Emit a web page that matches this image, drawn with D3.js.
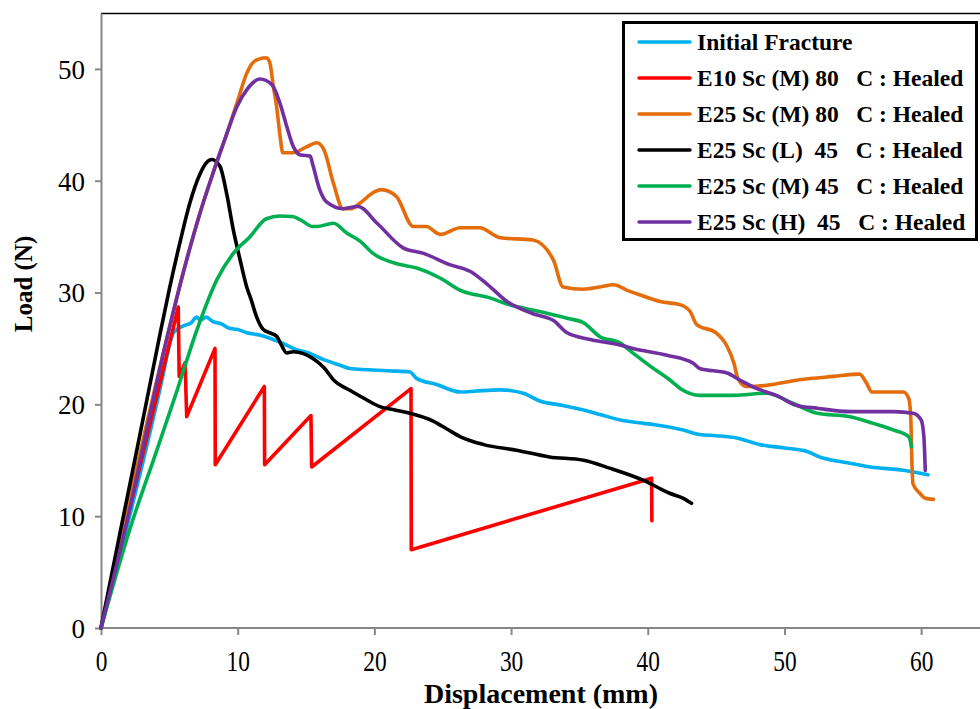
<!DOCTYPE html>
<html>
<head>
<meta charset="utf-8">
<script src="https://cdn.jsdelivr.net/npm/d3@7"></script>
<style>
  body { margin: 0; background: #fff; }
  svg { display: block; font-family: "Liberation Serif", "Times New Roman", serif; }
</style>
</head>
<body>
<div id="chart"></div>
<script>
// values (displacement mm, load N)
const seriesNames = ["Initial Fracture", "E10 Sc (M) 80   C : Healed", "E25 Sc (M) 80   C : Healed",
  "E25 Sc (L)  45   C : Healed", "E25 Sc (M) 45   C : Healed", "E25 Sc (H)  45   C : Healed"]
const seriesColors = ["#00b0f0", "#ff0000", "#e46c0a", "#000000", "#00b050", "#7030a0"]
const xTicks = [0, 10, 20, 30, 40, 50, 60]
const yTicks = [0, 10, 20, 30, 40, 50]

const initialFracture = [[0,0],[4.5,22.4],[5.05,25.5],[5.3,26.4],[6.0,27.0],[6.6,27.3],[7.0,27.8],[7.24,27.5],[7.7,27.8],[8.2,27.4],
  [8.8,27.2],[9.4,26.8],[10.0,26.7],[10.66,26.4],[11.6,26.2],[12.6,25.8],[13.4,25.4],[14.3,24.9],[15.2,24.6],[16.3,24.0],
  [17.5,23.5],[18.2,23.2],[19.5,23.1],[21.0,23.0],[22.6,22.9],[23.1,22.3],[24.5,21.8],[26.3,21.1],[27.5,21.2],[29.2,21.3],
  [30.9,21.0],[32.1,20.3],[33.8,19.9],[35.3,19.5],[36.5,19.1],[38.0,18.6],[39.7,18.3],[40.4,18.2],[42.6,17.7],[43.8,17.3],
  [45.0,17.2],[46.5,17.0],[48.2,16.4],[50.0,16.1],[51.6,15.8],[52.8,15.2],[54.5,14.8],[56.3,14.4],[58.7,14.1],[60.5,13.7]]
const e10M80 = [[0,0],[5.65,28.7],[5.72,22.5],[6.15,23.7],[6.27,18.9],[8.34,25.0],[8.36,14.6],[11.95,21.6],[11.97,14.6],
  [15.36,19.0],[15.41,14.4],[22.68,21.4],[22.7,7.0],[40.28,13.4],[40.3,9.6]]
const e25M80 = [[0,0],[4.8,25.8],[6.0,31.7],[7.24,37.1],[8.2,40.7],[9.2,44.2],[9.93,46.9],[10.66,49.6],[11.0,50.4],[11.4,50.8],
  [12.1,51.0],[12.36,50.5],[12.6,48.5],[12.85,46.6],[13.1,44.0],[13.3,42.5],[14.07,42.5],[15.0,43.0],[15.8,43.4],[16.3,42.8],
  [17.0,39.8],[17.7,37.5],[18.3,37.5],[18.95,38.0],[20.0,39.0],[20.5,39.2],[21.6,38.6],[22.85,35.9],[23.8,35.9],[24.8,35.2],
  [26.3,35.8],[27.7,35.8],[29.2,34.9],[31.6,34.7],[33.1,32.9],[33.8,30.5],[35.3,30.3],[36.5,30.5],[37.5,30.7],[38.5,30.2],
  [39.4,29.8],[40.9,29.2],[42.4,28.9],[43.1,28.3],[43.6,27.1],[45.0,26.4],[45.8,25.2],[46.3,23.7],[46.6,22.3],[47.2,21.6],
  [48.7,21.7],[51.1,22.2],[53.6,22.5],[55.5,22.7],[56.0,21.9],[56.4,21.1],[57.2,21.1],[58.7,21.1],[59.1,20.5],[59.25,18.5],
  [59.3,15.9],[59.4,12.9],[59.9,12.05],[60.3,11.6],[60.9,11.5]]
const e25L45 = [[0,0],[1.39,8.5],[2.9,17.6],[4.32,26.3],[5.0,30.3],[5.78,34.5],[6.5,38.0],[7.24,40.6],[7.7,41.6],[8.1,41.9],
  [8.7,41.3],[9.2,38.8],[9.68,35.6],[10.2,32.8],[10.66,30.5],[11.0,29.3],[11.39,27.8],[11.87,26.7],[12.36,26.4],[12.85,26.1],
  [13.2,25.3],[13.58,24.6],[14.07,24.7],[15.5,24.1],[16.3,23.3],[17.0,22.2],[18.3,21.2],[19.3,20.5],[20.4,19.8],[21.5,19.5],
  [22.6,19.2],[24.3,18.5],[25.3,17.8],[26.3,17.1],[28.0,16.4],[30.4,15.9],[32.8,15.3],[35.3,15.0],[37.2,14.3],[39.7,13.2],
  [41.6,12.05],[42.6,11.6],[43.2,11.15]]
const e25M45 = [[0,0],[2.1,8.8],[4.0,15.6],[5.5,21.0],[7.0,26.6],[8.5,31.2],[9.68,33.5],[10.9,35.0],[12.1,36.6],[13.1,36.85],
  [14.0,36.8],[14.6,36.5],[15.5,35.9],[15.8,35.9],[17.0,36.2],[18.0,35.3],[18.95,34.6],[19.9,33.5],[21.9,32.5],[23.1,32.2],
  [24.8,31.3],[26.3,30.2],[28.5,29.5],[29.9,28.9],[32.1,28.3],[34.1,27.7],[35.3,27.3],[36.5,26.05],[37.97,25.5],[38.9,24.6],
  [40.2,23.4],[41.6,22.2],[42.4,21.4],[43.8,20.8],[46.3,20.8],[48.7,21.0],[50.6,20.1],[52.4,19.2],[54.8,18.9],[56.5,18.3],
  [58.0,17.7],[59.1,17.1],[59.3,16.2]]
const e25H45 = [[0,0],[1.76,8.8],[4.8,25.8],[6.0,31.7],[7.24,37.1],[8.2,40.7],[9.2,44.2],[9.93,46.6],[10.7,48.2],[11.63,49.1],
  [12.5,48.6],[13.1,46.9],[13.6,44.8],[14.07,43.05],[14.6,42.3],[15.3,42.2],[15.5,41.4],[16.0,39.2],[16.5,38.1],[17.7,37.5],
  [18.8,37.7],[20.2,36.2],[22.1,34.0],[23.6,33.5],[25.5,32.5],[27.0,31.9],[28.2,30.8],[29.7,29.2],[31.6,28.1],[33.1,27.5],
  [34.1,26.4],[35.8,25.8],[37.97,25.3],[38.9,25.0],[41.4,24.4],[43.3,23.7],[43.8,23.2],[45.8,22.8],[46.7,22.2],[48.0,21.4],
  [49.4,20.8],[50.9,19.9],[52.4,19.65],[54.8,19.35],[58.0,19.35],[59.4,19.2],[60.0,18.6],[60.2,17.1],[60.3,14.1]]
const seriesData = [initialFracture, e10M80, e25M80, e25L45, e25M45, e25H45]

const width = 980, height = 709
const xScale = d3.scaleLinear().domain([0, 65]).range([101, 989.5])
const yScale = d3.scaleLinear().domain([0, 55]).range([628, 13])

const svg = d3.select("#chart").append("svg")
  .attr("width", width)
  .attr("height", height)

// plot area top edge
svg.append("line")
  .attr("x1", 101).attr("x2", width)
  .attr("y1", 13.5).attr("y2", 13.5)
  .attr("stroke", "#000").attr("stroke-width", 1.5)

const xAxis = d3.axisBottom(xScale).tickValues(xTicks).tickSize(7).tickSizeOuter(0)
const yAxis = d3.axisLeft(yScale).tickValues(yTicks).tickSize(6).tickSizeOuter(0)

const gx = svg.append("g").attr("transform", "translate(0,628)").call(xAxis)
const gy = svg.append("g").attr("transform", "translate(101,0)").call(yAxis)
gx.select(".domain").attr("d", "M101,0H" + width)
;[gx, gy].forEach(g => {
  g.selectAll(".domain, line").attr("stroke", "#868686").attr("stroke-width", 2)
  g.selectAll("text").attr("fill", "#000")
    .attr("font-family", "Liberation Serif, Times New Roman, serif")
})
gx.selectAll("text").attr("font-size", 30).attr("y", 0).attr("dy", "1.45em")
  .attr("transform", "scale(0.78,1)") // labels look condensed in the reference
gy.selectAll("text").attr("font-size", 27).attr("x", -16).attr("dy", "0.35em")

svg.append("text")
  .attr("x", 541).attr("y", 703)
  .attr("text-anchor", "middle")
  .attr("font-size", 28).attr("font-weight", "bold")
  .text("Displacement (mm)")
svg.append("text")
  .attr("transform", "translate(32,284) rotate(-90)")
  .attr("text-anchor", "middle")
  .attr("font-size", 25).attr("font-weight", "bold")
  .text("Load (N)")

const line = d3.line().x(d => xScale(d[0])).y(d => yScale(d[1]))

svg.append("g").selectAll("path")
  .data(seriesData)
  .join("path")
  .attr("d", (d, i) => i === 1 ? line.curve(d3.curveLinear)(d) : line.curve(d3.curveMonotoneX)(d))
  .attr("fill", "none")
  .attr("stroke", (d, i) => seriesColors[i])
  .attr("stroke-width", 3.6)
  .attr("stroke-linejoin", "round")
  .attr("stroke-linecap", "round")

// legend
const legend = svg.append("g")
legend.append("rect")
  .attr("x", 623.5).attr("y", 22.5)
  .attr("width", 353).attr("height", 217)
  .attr("fill", "#fff").attr("stroke", "#000").attr("stroke-width", 3)
const rows = legend.selectAll("g.row")
  .data(seriesNames)
  .join("g")
  .attr("class", "row")
  .attr("transform", (d, i) => "translate(0," + (42 + i * 36) + ")")
rows.append("line")
  .attr("x1", 639).attr("x2", 690)
  .attr("stroke", (d, i) => seriesColors[i])
  .attr("stroke-width", 3.5)
  .attr("stroke-linecap", "round")
rows.append("text")
  .attr("x", 697).attr("dy", "0.35em")
  .attr("font-size", 23.5).attr("font-weight", "bold")
  .style("white-space", "pre")
  .text(d => d)
</script>
</body>
</html>
